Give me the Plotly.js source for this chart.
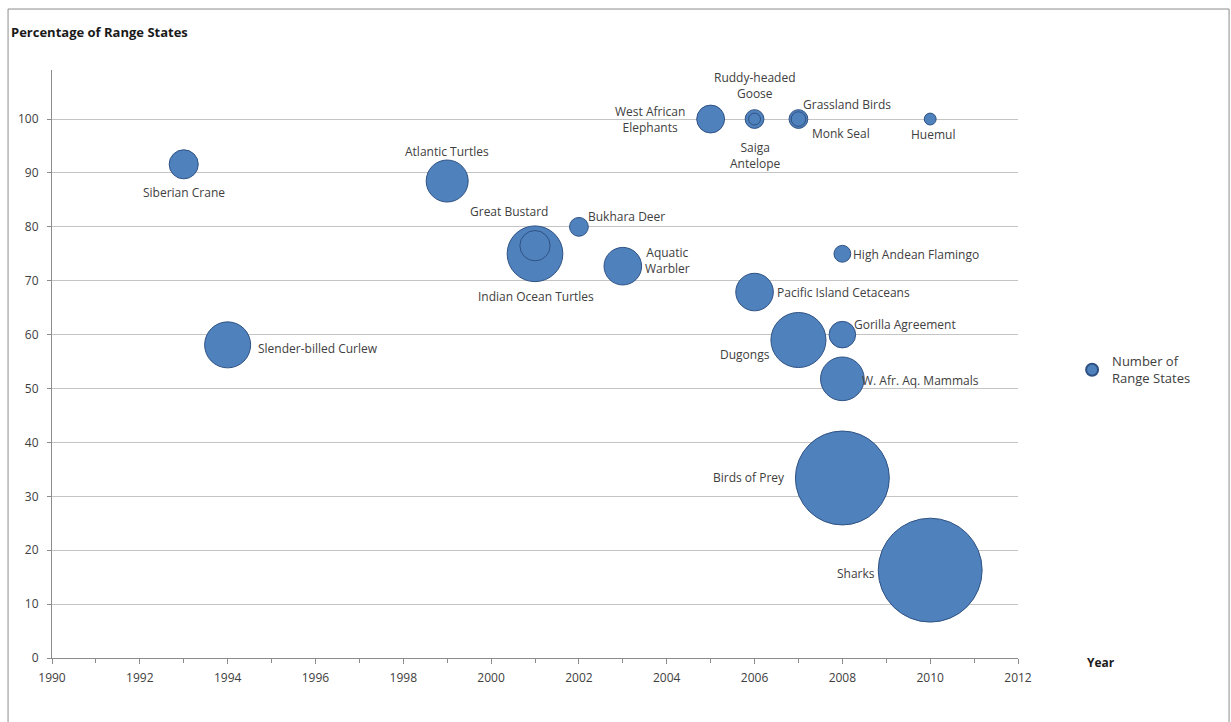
<!DOCTYPE html>
<html>
<head>
<meta charset="utf-8">
<script src="https://cdn.plot.ly/plotly-3.0.1.min.js"></script>
<style>html,body{margin:0;padding:0;background:#fff;}#chart{width:1231px;height:722px;}</style>
</head>
<body>
<div id="chart"></div>
<script>
// ---- data ----
const agreements = [
  "Sharks", "Birds of Prey", "Indian Ocean Turtles", "Dugongs", "Slender-billed Curlew",
  "W. Afr. Aq. Mammals", "Atlantic Turtles", "Pacific Island Cetaceans", "Aquatic<br>Warbler",
  "Great Bustard", "Siberian Crane", "West African<br>Elephants", "Gorilla Agreement",
  "Saiga<br>Antelope", "Grassland Birds", "Bukhara Deer", "High Andean Flamingo",
  "Monk Seal", "Ruddy-headed<br>Goose", "Huemul"
];
const years = [
  2010, 2008, 2001, 2007, 1994,
  2008, 1999, 2006, 2003,
  2001, 1993, 2005, 2008,
  2006, 2007, 2002, 2008,
  2007, 2006, 2010
];
const percentRangeStates = [
  16.3, 33.4, 75.0, 59.0, 58.1,
  51.8, 88.5, 67.9, 72.7,
  76.5, 91.6, 100, 60.0,
  100, 100, 80.0, 75.0,
  100, 100, 100
];
const numberOfRangeStates = [
  153, 125, 44, 43, 30,
  27, 25, 20, 20,
  13, 12, 11, 10,
  5, 5, 5, 4,
  3, 2, 2
];
const xTickVals = [1990, 1992, 1994, 1996, 1998, 2000, 2002, 2004, 2006, 2008, 2010, 2012];
const yTickVals = [0, 10, 20, 30, 40, 50, 60, 70, 80, 90, 100];

// ---- label placement (pixel offsets from each bubble centre) ----
const labelPlacement = [
  {xanchor: "right",  xshift: -53, yshift: -3},   // Sharks
  {xanchor: "right",  xshift: -55, yshift: 0},    // Birds of Prey
  {xanchor: "center", xshift: 1,   yshift: -43},  // IOSEA
  {xanchor: "right",  xshift: -26, yshift: -14},  // Dugongs
  {xanchor: "left",   xshift: 28,  yshift: -4},   // Curlew
  {xanchor: "left",   xshift: 18,  yshift: -2},   // W Afr
  {xanchor: "center", xshift: 0,   yshift: 30},   // Atlantic
  {xanchor: "left",   xshift: 20,  yshift: 0},    // PIC
  {xanchor: "center", xshift: 45,  yshift: 6},    // Aquatic Warbler
  {xanchor: "center", xshift: -26, yshift: 34},   // Great Bustard
  {xanchor: "center", xshift: 0,   yshift: -28},  // Siberian Crane
  {xanchor: "center", xshift: -61, yshift: 0},    // WAE
  {xanchor: "left",   xshift: 10,  yshift: 10},   // Gorilla
  {xanchor: "center", xshift: 1,   yshift: -36},  // Saiga
  {xanchor: "left",   xshift: 3,   yshift: 15},   // Grassland
  {xanchor: "left",   xshift: 7,   yshift: 10},   // Bukhara
  {xanchor: "left",   xshift: 9,   yshift: -1},   // Flamingo
  {xanchor: "left",   xshift: 12,  yshift: -14},  // Monk Seal
  {xanchor: "center", xshift: 0,   yshift: 34},   // Ruddy
  {xanchor: "center", xshift: 3,   yshift: -15}   // Huemul
];

const FONT = "Open Sans, Liberation Sans, sans-serif";
const TXT = "#404040";

const annotations = agreements.map((name, i) => ({
  x: years[i], y: percentRangeStates[i], xref: "x", yref: "y",
  text: name, showarrow: false,
  xanchor: labelPlacement[i].xanchor, yanchor: "middle",
  xshift: labelPlacement[i].xshift, yshift: labelPlacement[i].yshift,
  align: "center",
  font: {family: FONT, size: 12, color: TXT}
}));
annotations.push({
  xref: "paper", yref: "paper", x: -0.044, y: 1.065, xanchor: "left", yanchor: "middle",
  text: "<b>Percentage of Range States</b>", showarrow: false,
  font: {family: FONT, size: 13, color: "#1a1a1a"}
});
annotations.push({
  xref: "paper", yref: "paper", x: 1.069, y: -0.007, xanchor: "left", yanchor: "middle",
  text: "<b>Year</b>", showarrow: false,
  font: {family: FONT, size: 12, color: "#1a1a1a"}
});

const trace = {
  type: "scatter", mode: "markers",
  name: "Number of<br>Range States",
  x: years, y: percentRangeStates,
  text: agreements,
  marker: {
    size: numberOfRangeStates, sizemode: "area", sizeref: 2 / (8.4 * 8.4),
    color: "#4F81BD", line: {color: "#2F5283", width: 1}, opacity: 1
  },
  hoverinfo: "skip"
};

const layout = {
  width: 1231, height: 722,
  margin: {l: 52, r: 213, t: 70, b: 64},
  paper_bgcolor: "#ffffff", plot_bgcolor: "#ffffff",
  font: {family: FONT, size: 12, color: TXT},
  showlegend: true,
  legend: {
    x: 1.056, y: 0.49, xanchor: "left", yanchor: "middle",
    itemsizing: "constant", font: {family: FONT, size: 13, color: TXT},
    bgcolor: "rgba(0,0,0,0)"
  },
  xaxis: {
    range: [1990, 2012], tickvals: xTickVals, ticktext: xTickVals.map(String),
    showgrid: false, zeroline: false,
    showline: true, linecolor: "#8c8c8c", linewidth: 1,
    ticks: "outside", ticklen: 5, tickcolor: "#8c8c8c",
    ticklabelstandoff: 4,
    minor: {dtick: 1, tick0: 1990, ticks: "outside", ticklen: 4, tickcolor: "#8c8c8c", showgrid: false},
    tickfont: {family: FONT, size: 12, color: TXT},
    fixedrange: true
  },
  yaxis: {
    range: [0, 109.1], tickvals: yTickVals, ticktext: yTickVals.map(String),
    showgrid: true, gridcolor: "#c4c4c4", gridwidth: 1, zeroline: false,
    showline: true, linecolor: "#8c8c8c", linewidth: 1,
    ticks: "outside", ticklen: 4, tickcolor: "#8c8c8c",
    ticklabelstandoff: 6,
    tickfont: {family: FONT, size: 12, color: TXT},
    fixedrange: true
  },
  annotations: annotations,
  shapes: [{
    type: "rect", xref: "paper", yref: "paper",
    x0: -0.0455, x1: 1.2185, y0: -0.13, y1: 1.1037,
    line: {color: "#8c8c8c", width: 1}, fillcolor: "rgba(0,0,0,0)", layer: "below"
  }]
};

Plotly.newPlot("chart", [trace], layout, {displayModeBar: false, staticPlot: true});
</script>
</body>
</html>
